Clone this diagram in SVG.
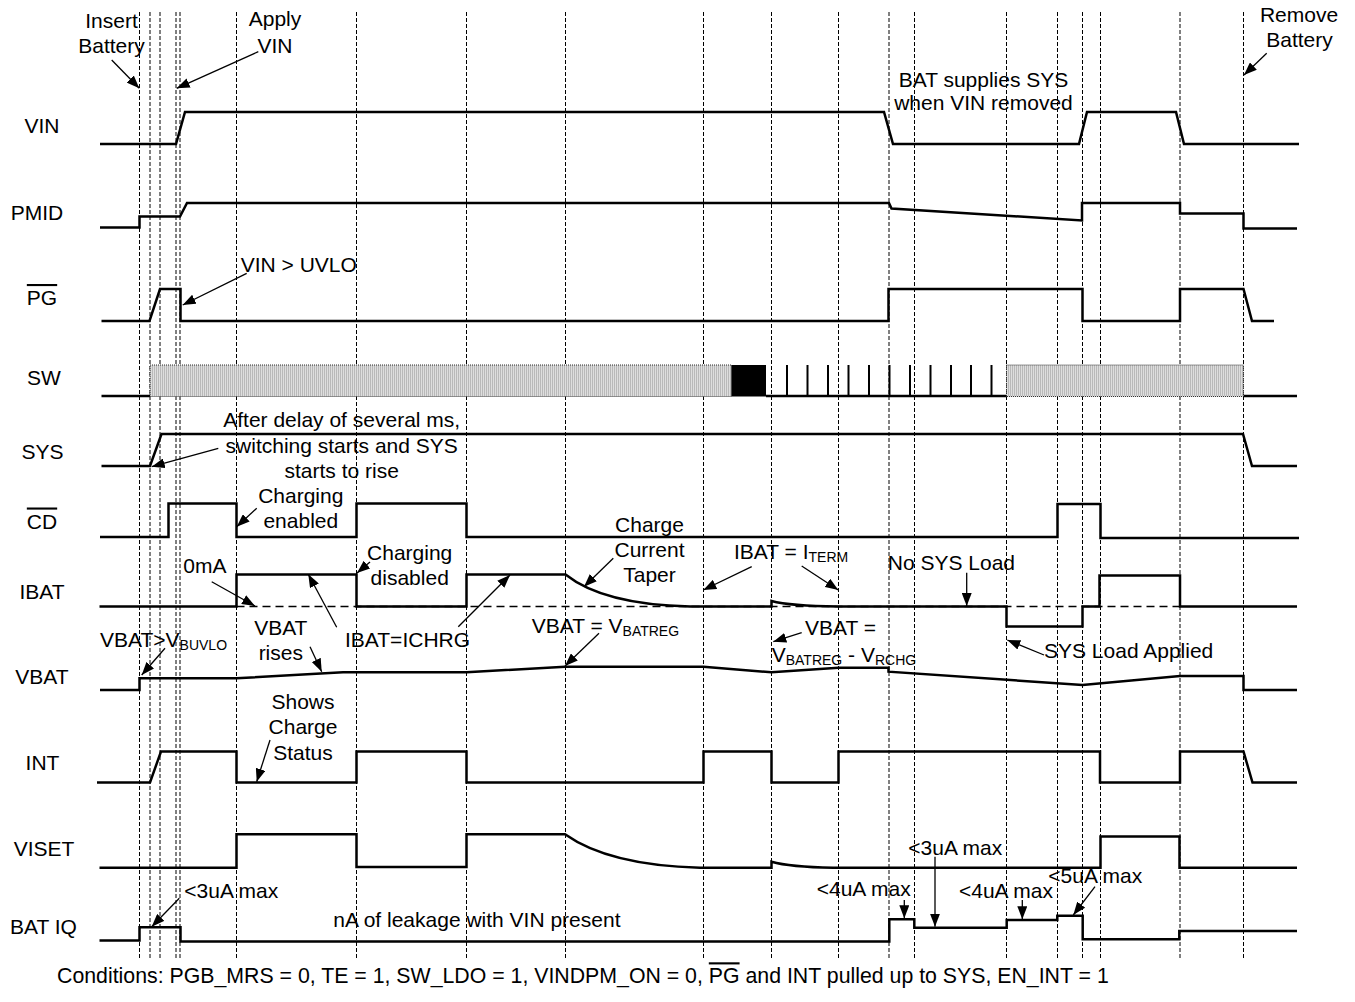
<svg xmlns="http://www.w3.org/2000/svg" width="1355" height="1002" viewBox="0 0 1355 1002">
<style>
text{font-family:"Liberation Sans",Arial,sans-serif;font-size:21px;fill:#000}
.mid{text-anchor:middle}
.end{text-anchor:end}
.sub{font-size:14px}
.cap{font-size:21.3px}
.grid line{stroke:#000;stroke-width:1;stroke-dasharray:4,2}
.sig{fill:none;stroke:#000;stroke-width:2.5;stroke-linejoin:miter}
.ref{fill:none;stroke:#000;stroke-width:1.5;stroke-dasharray:8,5}
.arr line{stroke:#000;stroke-width:1.3;marker-end:url(#ah)}
.pulse{stroke:#000;stroke-width:2}
.band{fill:url(#hatch);stroke:#333;stroke-width:1;stroke-dasharray:1,1}
.ovl{text-decoration:overline}
</style>
<defs>
<marker id="ah" viewBox="0 0 13 10" markerWidth="13" markerHeight="10" refX="13" refY="5" orient="auto" markerUnits="userSpaceOnUse">
<path d="M0,0 L13,5 L0,10 z" fill="#000"/>
</marker>
<pattern id="hatch" patternUnits="userSpaceOnUse" width="2" height="10">
<rect width="2" height="10" fill="#dedede"/>
<rect width="0.7" height="10" fill="#aaa"/>
</pattern>
</defs>
<rect width="1355" height="1002" fill="#fff"/>

<g id="gridlines" class="grid">
<line x1="139.5" y1="12" x2="139.5" y2="958"/>
<line x1="150" y1="12" x2="150" y2="958"/>
<line x1="160" y1="12" x2="160" y2="958"/>
<line x1="176" y1="12" x2="176" y2="958"/>
<line x1="180" y1="12" x2="180" y2="958"/>
<line x1="236.5" y1="12" x2="236.5" y2="958"/>
<line x1="356.5" y1="12" x2="356.5" y2="958"/>
<line x1="466.5" y1="12" x2="466.5" y2="958"/>
<line x1="565.5" y1="12" x2="565.5" y2="958"/>
<line x1="703.5" y1="12" x2="703.5" y2="958"/>
<line x1="771.5" y1="12" x2="771.5" y2="958"/>
<line x1="838.5" y1="12" x2="838.5" y2="958"/>
<line x1="889" y1="12" x2="889" y2="958"/>
<line x1="914.5" y1="12" x2="914.5" y2="958"/>
<line x1="1006.5" y1="12" x2="1006.5" y2="958"/>
<line x1="1057.5" y1="12" x2="1057.5" y2="958"/>
<line x1="1082.5" y1="12" x2="1082.5" y2="958"/>
<line x1="1100.5" y1="12" x2="1100.5" y2="958"/>
<line x1="1180" y1="12" x2="1180" y2="958"/>
<line x1="1243.5" y1="12" x2="1243.5" y2="958"/>
</g>

<g id="row-VIN">
<text class="mid" x="42" y="133">VIN</text>
<path class="sig" d="M100,144 H176 L185,112 H884 L893,144 H1079 L1087,112 H1176 L1184,144 H1299"/>
</g>
<g id="row-PMID">
<text class="mid" x="37" y="220">PMID</text>
<path class="sig" d="M100,227.5 H139.5 V216.5 H180 L187,203 H889 L891.5,208.5 L1082,220.5 V203 H1180 V213.5 H1243.5 V228.5 H1297"/>
</g>
<g id="row-PG">
<text class="mid" x="42" y="305"><tspan class="ovl">PG</tspan></text>
<path class="sig" d="M101.5,321 H149.5 L160,289 H180.5 V321 H888.5 V289 H1082.5 V321 H1180 V289 H1243.5 L1252,321 H1274"/>
</g>
<g id="row-SW">
<text class="mid" x="44" y="384.5">SW</text>
<path class="sig" d="M101.5,396 H150"/>
<rect class="band" x="150" y="365" width="581.5" height="31.5"/>
<rect x="731.5" y="365" width="34.5" height="31.5" fill="#000"/>
<path class="sig" d="M766,396 H1006.5"/>
<path class="pulse" d="M787,396 V365 M807.5,396 V365 M828,396 V365 M848.5,396 V365 M869,396 V365 M889.5,396 V365 M910,396 V365 M930.5,396 V365 M951,396 V365 M971,396 V365 M991.5,396 V365"/>
<rect class="band" x="1006.5" y="365" width="237" height="31.5"/>
<path class="sig" d="M1243.5,396 H1297"/>
</g>
<g id="row-SYS">
<text class="mid" x="42.5" y="458.5">SYS</text>
<path class="sig" d="M101.5,466 H150 L161.5,434 H1243 L1252,466 H1297"/>
</g>
<g id="row-CD">
<text class="mid" x="42" y="528.5"><tspan class="ovl">CD</tspan></text>
<path class="sig" d="M100,537 H168.5 V503.5 H236.5 V537 H356.5 V503.5 H466.5 V537 H1057.5 V504 H1100.5 V538 H1299"/>
</g>
<g id="row-IBAT">
<text class="mid" x="42" y="598.5">IBAT</text>
<path class="ref" d="M236.5,606.5 H1180"/>
<path class="sig" d="M99.5,606.5 H236.5 V574.5 H356.5 V606.5 H466.5 V574.5 H565.5 C585,590 620,605 690,606.5 H771.5 V601 Q790,606 838,606.5 H1006.5 V626.5 H1082.5 V606.5 H1099.5 V575.5 H1180 V606.5 H1297"/>
</g>
<g id="row-VBAT">
<text class="mid" x="42" y="683.5">VBAT</text>
<path class="sig" d="M100,690 H139.5 V678.3 H236.5 L343,672.3 H466.5 L565,666.7 H703.5 L771.5,672.3 L838.5,667.7 H888.5 V671.7 L1082.5,685 L1180,676 H1243.5 V690 H1297"/>
</g>
<g id="row-INT">
<text class="mid" x="42.5" y="769.5">INT</text>
<path class="sig" d="M97,782.5 H150 L161,751.5 H236.5 V782.5 H356.5 V751.5 H466.5 V782.5 H703.5 V751.5 H771.5 V782.5 H838.5 V751.5 H1100 V782.5 H1180 V751.5 H1243.5 L1252.5,782.5 H1297"/>
</g>
<g id="row-VISET">
<text class="mid" x="44" y="855.5">VISET</text>
<path class="sig" d="M99.5,867.7 H236.5 V834.3 H356.5 V867 H466.5 V834.3 H565 C590,852 630,866 700,867.7 H771.5 V861.7 Q790,867 833,867.7 H1100.5 V836.5 H1179.5 V867.7 H1297"/>
</g>
<g id="row-BATIQ">
<text class="mid" x="43.5" y="933.5">BAT IQ</text>
<path class="sig" d="M99.5,940.5 H139.5 V927.3 H180.5 V941.5 H889.3 V919.3 H914.3 V927.7 H1006.7 V920 H1057.3 V915.7 H1082.7 V939.3 H1179.3 V931 H1297"/>
</g>

<g id="annotations">
<text class="mid" x="111.5" y="28">Insert</text>
<text class="mid" x="111.5" y="53">Battery</text>
<text class="mid" x="275" y="26">Apply</text>
<text class="mid" x="275" y="52.5">VIN</text>
<text x="240.7" y="271.7">VIN &gt; UVLO</text>
<text class="mid" x="983.5" y="86.7">BAT supplies SYS</text>
<text class="mid" x="983.5" y="110">when VIN removed</text>
<text class="mid" x="1299" y="21.7">Remove</text>
<text class="mid" x="1299.5" y="46.7">Battery</text>
<text class="mid" x="341.7" y="427">After delay of several ms,</text>
<text class="mid" x="341.7" y="452.7">switching starts and SYS</text>
<text class="mid" x="341.7" y="477.7">starts to rise</text>
<text class="mid" x="300.8" y="503">Charging</text>
<text class="mid" x="300.8" y="528">enabled</text>
<text class="mid" x="409.7" y="560">Charging</text>
<text class="mid" x="409.7" y="585">disabled</text>
<text x="183.3" y="573.3">0mA</text>
<text class="mid" x="649.5" y="531.7">Charge</text>
<text class="mid" x="649.5" y="557.3">Current</text>
<text class="mid" x="649.5" y="581.7">Taper</text>
<text x="734" y="559">IBAT = I<tspan class="sub" dy="3">TERM</tspan></text>
<text class="end" x="1015" y="570">No SYS Load</text>
<text x="100" y="646.7">VBAT&gt;V<tspan class="sub" dy="3">BUVLO</tspan></text>
<text class="mid" x="280.8" y="635">VBAT</text>
<text class="mid" x="280.8" y="660">rises</text>
<text x="345" y="646.7">IBAT=ICHRG</text>
<text class="mid" x="303" y="709.3">Shows</text>
<text class="mid" x="303" y="734.3">Charge</text>
<text class="mid" x="303" y="760">Status</text>
<text x="531.7" y="633.3">VBAT = V<tspan class="sub" dy="3">BATREG</tspan></text>
<text x="805" y="635">VBAT =</text>
<text x="771.7" y="661.7">V<tspan class="sub" dy="3">BATREG</tspan><tspan dy="-3"> - V</tspan><tspan class="sub" dy="3">RCHG</tspan></text>
<text x="1044" y="658.3">SYS Load Applied</text>
<text x="184.3" y="898.3">&lt;3uA max</text>
<text x="333.3" y="926.7">nA of leakage with VIN present</text>
<text x="816.7" y="896">&lt;4uA max</text>
<text x="908.3" y="855">&lt;3uA max</text>
<text x="959" y="898.3">&lt;4uA max</text>
<text x="1048.3" y="883.3">&lt;5uA max</text>
<text class="cap" x="57" y="983.3">Conditions: PGB_MRS = 0, TE = 1, SW_LDO = 1, VINDPM_ON = 0, <tspan class="ovl">PG</tspan> and INT pulled up to SYS, EN_INT = 1</text>
</g>

<g id="connectors" class="arr">
<line x1="111.7" y1="60" x2="139.3" y2="88.3"/>
<line x1="258.3" y1="51.7" x2="176.7" y2="88.3"/>
<line x1="246.7" y1="273.3" x2="182.7" y2="305"/>
<line x1="1266.7" y1="53.3" x2="1244" y2="75"/>
<line x1="218.3" y1="448.3" x2="151.7" y2="466.7"/>
<line x1="256.7" y1="508.3" x2="236.7" y2="526.7"/>
<line x1="370" y1="562" x2="357" y2="573"/>
<line x1="211.7" y1="581.7" x2="255" y2="606"/>
<line x1="336.7" y1="627.3" x2="308.3" y2="574.3"/>
<line x1="458.3" y1="626.7" x2="510" y2="575"/>
<line x1="613.3" y1="558.3" x2="584" y2="586.7"/>
<line x1="751.7" y1="566.7" x2="703.3" y2="590"/>
<line x1="801.7" y1="566" x2="838.3" y2="590"/>
<line x1="966.7" y1="572.7" x2="966.7" y2="606"/>
<line x1="165" y1="648.3" x2="141.7" y2="675"/>
<line x1="310" y1="646.7" x2="321.7" y2="671.7"/>
<line x1="599" y1="633.3" x2="565" y2="666"/>
<line x1="801.7" y1="632.7" x2="773.3" y2="641.7"/>
<line x1="1044" y1="655" x2="1007.3" y2="640"/>
<line x1="270" y1="740" x2="256.7" y2="781.7"/>
<line x1="179.3" y1="898.3" x2="151.7" y2="926.7"/>
<line x1="904.3" y1="900" x2="904.3" y2="918.3"/>
<line x1="935" y1="856.7" x2="935" y2="926.7"/>
<line x1="1022.3" y1="900" x2="1022.3" y2="919.3"/>
<line x1="1095" y1="886.7" x2="1073.3" y2="915"/>
</g>
</svg>
